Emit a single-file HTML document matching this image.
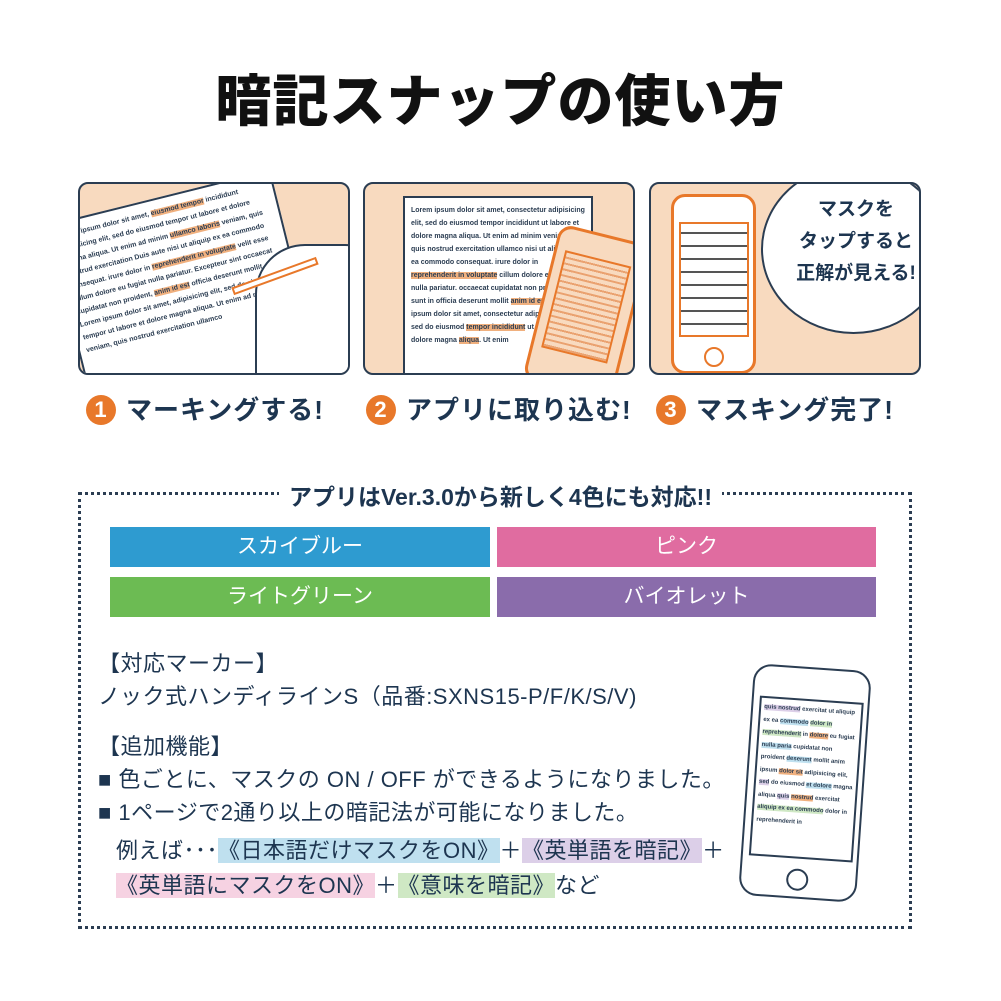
<!DOCTYPE html>
<html><head><meta charset="utf-8"><style>
*{margin:0;padding:0;box-sizing:border-box}
body{width:1001px;height:1001px;background:#fff;position:relative;overflow:hidden;font-family:"Liberation Sans","Noto Sans CJK JP",sans-serif;color:#1d3550}
.a{position:absolute;white-space:nowrap}
.title{left:0;width:1001px;top:57px;text-align:center;font-size:56px;font-weight:900;color:#111;letter-spacing:1px}
.panel{position:absolute;top:182px;width:272px;height:193px;border:2px solid #2b3d52;border-radius:10px;background:#f8dabf;overflow:hidden}
.lab{top:390px;font-size:26px;font-weight:700;letter-spacing:1px}
.num{display:inline-block;width:30px;height:30px;border-radius:50%;background:#e8782a;color:#fff;text-align:center;line-height:30px;font-size:22px;margin-right:10px;vertical-align:2px}
.box{position:absolute;left:78px;top:492px;width:834px;height:437px;border:3px dotted #2b3d52}
.hdr{top:478px;left:0;width:1001px;text-align:center;font-size:23px;font-weight:700}
.hdr span{background:#fff;padding:0 10px}
.bar{position:absolute;height:40px;color:#fff;font-size:21px;text-align:center;line-height:40px}
.t{font-size:22px;letter-spacing:0.5px}
.doc{position:absolute;background:#fff;border:2px solid #2b3d52;font-size:7px;font-weight:700;line-height:13px;padding:6px;color:#2b3d52;white-space:normal;overflow:hidden}
.hl{background:#f0b07e}
</style></head><body>
<div class="a title">暗記スナップの使い方</div>

<div class="panel" style="left:78px">
 <div class="doc" style="left:-10px;top:10px;width:230px;height:220px;transform:rotate(-14deg)">Lorem ipsum dolor sit amet, <span class="hl">eiusmod tempor</span> incididunt adipisicing elit, sed do eiusmod tempor ut labore et dolore magna aliqua. Ut enim ad minim <span class="hl">ullamco laboris</span> veniam, quis nostrud exercitation Duis aute nisi ut aliquip ex ea commodo consequat. irure dolor in <span class="hl">reprehenderit in voluptate</span> velit esse cillum dolore eu fugiat nulla pariatur. Excepteur sint occaecat cupidatat non proident, <span class="hl">anim id est</span> officia deserunt mollit Lorem ipsum dolor sit amet, adipisicing elit, sed do eiusmod tempor ut labore et dolore magna aliqua. Ut enim ad minim veniam, quis nostrud exercitation ullamco</div>
 <div style="position:absolute;left:175px;top:60px;width:120px;height:160px;background:#fff;border:2px solid #2b3d52;border-radius:50px 30px 0 0"></div>
 <div style="position:absolute;left:150px;top:88px;width:90px;height:8px;background:#fff;border:2px solid #e8782a;transform:rotate(-20deg)"></div>
</div>

<div class="panel" style="left:363px">
 <div class="doc" style="left:38px;top:12px;width:190px;height:200px">Lorem ipsum dolor sit amet, consectetur adipisicing elit, sed do eiusmod tempor incididunt ut labore et dolore magna aliqua. Ut enim ad minim veniam, quis nostrud exercitation ullamco nisi ut aliquip ex ea commodo consequat. irure dolor in <span class="hl">reprehenderit in voluptate</span> cillum dolore eu fugiat nulla pariatur. occaecat cupidatat non proident, sunt in officia deserunt mollit <span class="hl">anim id est</span> Lorem ipsum dolor sit amet, consectetur adipisicing elit, sed do eiusmod <span class="hl">tempor incididunt</span> ut labore et dolore magna <span class="hl">aliqua</span>. Ut enim</div>
 <div style="position:absolute;left:175px;top:48px;width:92px;height:160px;background:#f8dabf;border:3px solid #e8782a;border-radius:14px;transform:rotate(14deg)"><div style="position:absolute;left:8px;top:22px;width:68px;height:100px;border:2px solid #e8782a;background:repeating-linear-gradient(#f8dabf 0 4px,#eaa270 4px 6px)"></div></div>
</div>

<div class="panel" style="left:649px">
 <div style="position:absolute;left:20px;top:10px;width:85px;height:180px;background:#fff;border:3px solid #e8782a;border-radius:14px"><div style="position:absolute;left:5px;top:25px;width:70px;height:115px;border:2px solid #e8782a;background:repeating-linear-gradient(#fff 0 8px,#555 8px 10px,#fff 10px 13px)"></div><div style="position:absolute;left:30px;top:150px;width:20px;height:20px;border:2px solid #e8782a;border-radius:50%"></div></div>
 <div style="position:absolute;left:110px;top:-20px;width:185px;height:170px;background:#fff;border:2px solid #2b3d52;border-radius:50%"></div>
 <div class="a" style="left:140px;top:10px;width:130px;text-align:center;font-size:19px;font-weight:700;line-height:32px">マスクを<br>タップすると<br>正解が見える!</div>
</div>

<div class="a lab" style="left:86px"><span class="num">1</span>マーキングする!</div>
<div class="a lab" style="left:366px"><span class="num">2</span>アプリに取り込む!</div>
<div class="a lab" style="left:656px"><span class="num">3</span>マスキング完了!</div>

<div class="box"></div>
<div class="a hdr"><span>アプリはVer.3.0から新しく4色にも対応!!</span></div>
<div class="bar" style="left:110px;top:527px;width:380px;background:#2e9bd0">スカイブルー</div>
<div class="bar" style="left:497px;top:527px;width:379px;background:#e06ca0">ピンク</div>
<div class="bar" style="left:110px;top:577px;width:380px;background:#6cbb53">ライトグリーン</div>
<div class="bar" style="left:497px;top:577px;width:379px;background:#8a6cab">バイオレット</div>

<div class="a t" style="left:98px;top:646px">【対応マーカー】</div>
<div class="a t" style="left:98px;top:679px">ノック式ハンディラインS（品番:SXNS15-P/F/K/S/V)</div>
<div class="a t" style="left:98px;top:729px">【追加機能】</div>
<div class="a t" style="left:98px;top:762px">■ 色ごとに、マスクの ON / OFF ができるようになりました。</div>
<div class="a t" style="left:98px;top:795px">■ 1ページで2通り以上の暗記法が可能になりました。</div>
<div class="a t" style="left:116px;top:833px">例えば･･･<span style="background:#bfe0ef">《日本語だけマスクをON》</span>＋<span style="background:#dccfe8">《英単語を暗記》</span>＋</div>
<div class="a t" style="left:116px;top:868px"><span style="background:#f6d2e2">《英単語にマスクをON》</span>＋<span style="background:#cfe8c4">《意味を暗記》</span>など</div>

<div style="position:absolute;left:746px;top:667px;width:118px;height:232px;border:2px solid #2b3d52;border-radius:18px;background:#fff;transform:rotate(4deg)">
 <div class="doc" style="left:6px;top:30px;width:104px;height:160px;font-size:6px;line-height:12.5px;padding:3px"><span style="background:#dccfe8">quis nostrud</span> exercitat ut aliquip ex ea <span style="background:#bfe0ef">commodo</span> <span style="background:#cfe8c4">dolor in reprehenderit</span> in <span class="hl">dolore</span> eu fugiat <span style="background:#bfe0ef">nulla paria</span> cupidatat non proident <span style="background:#bfe0ef">deserunt</span> mollit anim ipsum <span class="hl">dolor sit</span> adipisicing elit, <span style="background:#dccfe8">sed</span> do eiusmod <span style="background:#bfe0ef">et dolore</span> magna aliqua <span style="background:#dccfe8">quis</span> <span class="hl">nostrud</span> exercitat <span style="background:#cfe8c4">aliquip ex ea commodo</span> dolor in reprehenderit in</div>
 <div style="position:absolute;left:45px;top:200px;width:22px;height:22px;border:2px solid #2b3d52;border-radius:50%"></div>
</div>
</body></html>
